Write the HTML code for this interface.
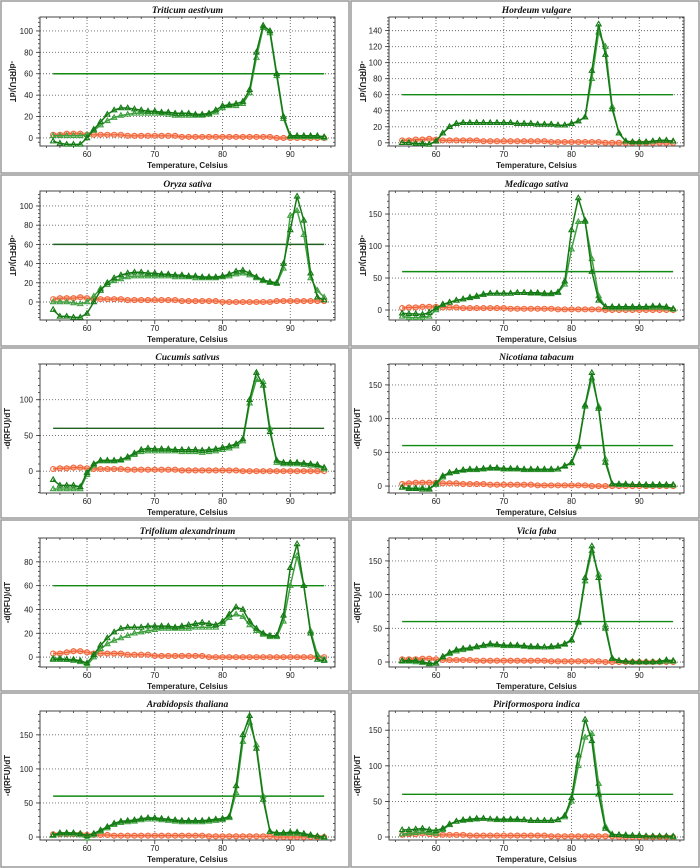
<!DOCTYPE html>
<html><head><meta charset="utf-8">
<style>
html,body{margin:0;padding:0;background:#fff;}
svg{display:block;}
</style></head>
<body>
<svg id="fig" width="700" height="868" viewBox="0 0 700 868" xmlns="http://www.w3.org/2000/svg"></svg>
<script>
const temps = [55,56,57,58,59,60,61,62,63,64,65,66,67,68,69,70,71,72,73,74,75,76,77,78,79,80,81,82,83,84,85,86,87,88,89,90,91,92,93,94,95];
const titles = ["Triticum aestivum","Hordeum vulgare","Oryza sativa","Medicago sativa","Cucumis sativus","Nicotiana tabacum","Trifolium alexandrinum","Vicia faba","Arabidopsis thaliana","Piriformospora indica"];
const yDomains = [[-7.5,113],[-4,157],[-18.75,115.6],[-15.6,186],[-30.6,150],[-10.3,181],[-8.3,100],[-7.4,184],[-4.4,185],[-4.2,177]];
const yTickSets = [[0,20,40,60,80,100],[0,20,40,60,80,100,120,140],[0,20,40,60,80,100],[0,50,100,150],[0,50,100],[0,50,100,150],[0,20,40,60,80],[0,50,100,150],[0,50,100,150],[0,50,100,150]];
const xTicks = [60,70,80,90];
const thresholds = [60,60,60,60,60,60,60,60,60,60];
const greenA = [
[-3,-5,-6,-6,-6,0,8,15,22,26,28,28,27,26,25,25,24,24,23,23,23,22,22,23,26,30,31,32,34,45,80,105,100,60,20,2,2,2,2,2,1],
[0,0,-1,-1,-2,2,12,20,24,25,25,25,25,25,25,25,25,24,24,24,23,23,23,22,22,24,27,32,90,148,110,42,12,2,1,1,1,2,3,3,2],
[-8,-15,-15,-16,-16,-12,0,12,20,25,28,30,31,31,30,30,29,29,28,28,27,27,26,26,26,27,29,32,33,30,26,23,21,20,40,75,110,85,30,5,2],
[-5,-6,-6,-7,-4,3,9,12,15,17,19,21,24,26,26,26,26,27,27,27,27,26,26,28,45,125,175,140,60,15,5,5,5,5,5,5,5,6,6,5,2],
[-12,-20,-20,-20,-22,-2,10,15,15,15,16,20,25,30,32,31,31,31,30,30,30,30,29,30,31,33,35,38,45,100,138,120,55,15,12,12,12,11,10,9,5],
[-2,-4,-4,-5,-5,4,15,20,22,24,25,25,26,27,27,26,26,26,25,25,25,25,25,25,30,35,60,120,168,115,35,3,3,3,2,2,2,2,2,2,2],
[-2,-2,-2,-2,-3,-5,2,10,16,21,24,25,25,25,26,26,26,26,25,26,27,28,29,28,27,30,36,42,40,30,24,20,18,18,35,75,95,60,20,-2,-3],
[2,2,2,0,-2,-2,8,14,18,20,21,23,25,27,26,25,25,25,24,23,23,22,23,24,27,33,60,125,172,125,50,5,2,1,0,0,0,0,1,3,2],
[3,6,6,6,5,2,5,10,15,20,23,24,25,27,28,28,27,26,25,24,24,24,24,25,26,27,30,75,150,178,130,55,8,6,6,7,7,5,3,1,0],
[10,10,11,12,10,9,12,18,22,24,25,26,26,25,25,25,25,25,24,23,23,23,23,24,30,55,115,165,135,60,12,3,3,2,2,2,1,1,1,1,1]
];
const greenB = [
[2,2,2,2,2,3,7,12,16,19,21,22,23,23,23,23,23,22,21,21,21,21,21,22,24,28,30,30,32,42,75,103,98,58,18,1,1,1,1,1,0],
[0,0,-1,-1,-2,2,12,20,24,25,25,25,25,25,25,25,25,24,24,24,23,23,23,22,22,24,27,32,80,138,120,45,12,2,1,1,1,2,3,3,2],
[0,0,0,-1,-2,0,6,14,18,22,24,26,27,27,27,27,27,27,26,26,26,25,25,25,25,26,27,29,30,28,25,22,20,19,35,90,95,70,25,12,5],
[-10,-12,-12,-12,-10,0,8,12,15,17,20,22,25,26,26,26,26,27,27,26,26,25,25,27,40,95,138,138,80,22,5,3,3,3,3,4,4,4,4,3,1],
[-25,-25,-25,-25,-25,-5,8,14,14,14,15,18,23,27,28,28,28,28,28,27,27,27,26,27,28,30,32,35,42,95,128,125,60,12,10,10,10,9,8,7,3],
[-2,-3,-3,-3,-4,2,13,19,21,23,24,24,25,26,26,25,25,25,24,24,24,24,24,25,29,34,58,118,160,118,40,3,2,2,2,2,1,1,1,1,1],
[-1,-1,-2,-3,-4,-7,0,7,11,14,16,18,20,21,22,23,24,24,24,24,24,25,25,25,25,28,33,36,34,27,22,19,17,17,30,60,85,60,22,2,-2],
[1,1,0,-1,-3,-2,7,12,16,18,20,22,24,25,25,24,24,24,23,22,22,22,22,23,26,32,58,120,165,130,55,6,2,1,0,0,0,0,0,1,1],
[2,4,4,4,3,-2,3,8,13,18,21,22,23,25,26,26,25,24,23,22,22,22,22,23,24,25,28,65,140,168,135,60,8,5,5,5,5,4,2,1,-1],
[4,5,6,7,6,5,10,17,22,23,24,25,26,25,24,24,24,24,24,23,23,23,23,24,28,50,100,140,145,75,15,4,3,3,2,2,1,1,1,1,0]
];
const orange = [
[3,3,4,4,4,3,3,3,3,3,3,2,2,2,2,2,2,2,2,1,1,1,1,1,1,1,1,1,1,1,1,1,1,0,0,0,0,0,0,0,0],
[3,3,4,4,5,4,3,3,3,3,3,3,2,2,2,2,2,2,2,2,2,2,1,1,1,1,1,1,1,1,0,0,0,0,0,0,0,0,0,0,0],
[3,4,4,4,5,4,3,3,3,3,3,2,2,2,2,2,2,2,2,1,1,1,1,1,1,0,0,0,0,0,0,0,0,1,1,1,1,1,1,1,1],
[3,4,4,5,5,5,4,4,4,3,3,3,3,3,3,3,2,2,2,2,2,2,2,1,1,1,1,1,1,1,0,0,0,0,0,0,0,0,0,0,0],
[3,4,4,5,5,4,3,3,3,3,3,2,2,2,2,2,2,2,2,1,1,1,1,1,1,1,1,1,0,0,0,0,0,0,0,0,0,0,0,0,0],
[3,4,5,5,5,5,4,4,4,3,3,3,3,2,2,2,2,2,2,2,1,1,1,1,1,1,1,1,0,0,0,0,0,0,0,0,0,0,0,0,0],
[3,3,4,5,5,4,3,3,3,3,3,2,2,2,2,1,1,1,1,1,1,1,1,0,0,0,0,0,0,0,0,0,0,0,0,0,0,0,0,0,0],
[4,4,4,5,5,4,3,3,3,3,3,2,2,2,2,2,2,2,2,2,2,2,1,1,1,1,1,1,1,1,0,0,0,0,0,0,0,0,0,0,0],
[4,4,4,4,4,3,3,3,3,2,2,2,2,2,2,2,2,2,2,2,2,2,2,1,1,1,1,1,1,1,1,1,1,0,0,0,0,0,0,0,0],
[3,4,4,5,4,3,3,3,3,3,2,2,2,2,2,2,2,2,2,2,2,2,1,1,1,1,1,1,1,1,1,1,0,0,0,0,0,0,0,0,0]
];

const NS = "http://www.w3.org/2000/svg";
const svg = document.getElementById('fig');
function mk(tag, attrs, parent){ const e=document.createElementNS(NS,tag); for(const k in attrs) e.setAttribute(k,attrs[k]); (parent||svg).appendChild(e); return e; }

const rowTops=[0,174,347,519,692,868];
const plotTops=[17,191,364,538,711];
const colLefts=[0,350,700];
const plotLefts=[40,389];
const PW=295, PH=129, XMIN=53.06, XMAX=96.6;

for(let p=0;p<10;p++){
  const r=Math.floor(p/2), c=p%2;
  const g=mk('g',{});
  
  
  const px0=colLefts[c], py0=rowTops[r];
  const fr=mk('rect',{x:px0+1,y:py0+1,width:colLefts[c+1]-px0-2,height:rowTops[r+1]-py0-2,fill:'#fff',stroke:'#9a9a9a','stroke-width':1.5},g);
  
  
  const L=plotLefts[c], T=plotTops[r], B=T+PH, R=L+PW;
  const [ymin,ymax]=yDomains[p];
  const xs=v=>L+(v-XMIN)/(XMAX-XMIN)*PW;
  const ys=v=>B-(v-ymin)/(ymax-ymin)*PH;
  xTicks.forEach(t=>{ const l=mk('line',{x1:xs(t),x2:xs(t),y1:T,y2:B,stroke:'#666','stroke-width':0.9,'stroke-dasharray':'1,2'},g);  });
  yTickSets[p].forEach(t=>{ const l=mk('line',{x1:L,x2:R,y1:ys(t),y2:ys(t),stroke:'#666','stroke-width':0.9,'stroke-dasharray':'1,2'},g);  });
  for(let t=54;t<=96;t+=2){ const x=xs(t); mk('line',{x1:x,x2:x,y1:B,y2:B+(t%10===0?4:2),stroke:'#333','stroke-width':0.8},g); mk('line',{x1:x,x2:x,y1:T,y2:T+2,stroke:'#333','stroke-width':0.8},g);}
  const step=yTickSets[p][1]-yTickSets[p][0];
  for(let t=Math.ceil(ymin/(step/5))*(step/5);t<=ymax;t+=step/5){ const y=ys(t); mk('line',{x1:L-2,x2:L,y1:y,y2:y,stroke:'#333','stroke-width':0.8},g); mk('line',{x1:R-2,x2:R,y1:y,y2:y,stroke:'#333','stroke-width':0.8},g);}
  yTickSets[p].forEach(t=>{ mk('line',{x1:L-4,x2:L,y1:ys(t),y2:ys(t),stroke:'#333','stroke-width':0.8},g);
    const tx=mk('text',{x:L-7,y:ys(t)+3,'font-size':8,'font-family':'Liberation Sans, sans-serif',fill:'#222','text-anchor':'end'},g); tx.textContent=t;  });
  xTicks.forEach(t=>{ const tx=mk('text',{x:xs(t),y:B+11,'font-size':8,'font-family':'Liberation Sans, sans-serif',fill:'#222','text-anchor':'middle'},g); tx.textContent=t;  });
  const ax=mk('rect',{x:L,y:T,width:PW,height:PH,fill:'none',stroke:'#444','stroke-width':1},g);
   
  const ti=mk('text',{x:L+PW/2,y:T-4,'font-size':9.5,'font-family':'Liberation Serif, serif','font-style':'italic','font-weight':'bold',fill:'#111','text-anchor':'middle'},g);
  ti.textContent=titles[p];  
  const xl=mk('text',{x:L+PW/2,y:B+22,'font-size':8,'font-family':'Liberation Sans, sans-serif','font-weight':'bold',fill:'#222','text-anchor':'middle'},g);
  xl.textContent='Temperature, Celsius';  
  const yx=px0+10, yy=T+PH/2, rot=r<2?90:-90;
  const yl=mk('text',{x:yx,y:yy,'font-size':8,'font-family':'Liberation Sans, sans-serif','font-weight':'bold',fill:'#222','text-anchor':'middle',transform:`rotate(${rot} ${yx} ${yy})`},g);
  yl.textContent='-d(RFU)/dT';  
  const th=mk('line',{x1:xs(55),x2:xs(95),y1:ys(thresholds[p]),y2:ys(thresholds[p]),stroke:(p===2||p===4)?'#1f5f1f':'#108a10','stroke-width':1.4},g);
   
  function series(vals,color,marker,name,lw){
    const d=vals.map((v,i)=>(i?'L':'M')+xs(temps[i]).toFixed(1)+','+ys(v).toFixed(1)).join('');
    if(marker==='circ'){ const bg=mk('path',{d:d,fill:'none',stroke:'#fbb49a','stroke-width':4},g);   }
    const pl=mk('path',{d:d,fill:'none',stroke:color,'stroke-width':lw},g);
     
    vals.forEach((v,i)=>{ const x=xs(temps[i]), y=ys(v); let m;
      if(marker==='tri') m=mk('path',{d:`M${x},${y-2.8}L${x+2.6},${y+1.7}L${x-2.6},${y+1.7}Z`,fill:'none',stroke:color,'stroke-width':1.1},g);
      else m=mk('circle',{cx:x,cy:y,r:2.5,fill:'none',stroke:color,'stroke-width':1.1},g);
       });
  }
  series(orange[p],'#f0643a','circ','ntc-series',1.2);
  series(greenB[p],'#3fa03f','tri','replicate-b',1.5);
  series(greenA[p],'#137a13','tri','replicate-a',1.5);
}
</script>
</body></html>
